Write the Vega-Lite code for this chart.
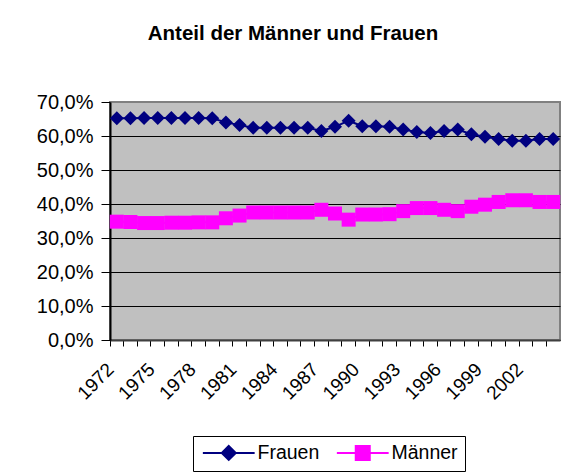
{
  "$schema": "https://vega.github.io/schema/vega-lite/v6.json",
  "width": 450,
  "height": 238,
  "autosize": {"type": "none"},
  "padding": {"left": 110, "top": 102, "right": 10, "bottom": 133},
  "background": "white",
  "title": {
    "text": "Anteil der Männer und Frauen",
    "fontSize": 20.5,
    "font": "Liberation Sans",
    "fontWeight": "bold",
    "color": "black",
    "anchor": "middle",
    "baseline": "alphabetic",
    "dx": -42,
    "offset": 32
  },
  "config": {
    "locale": {"number": {"decimal": ",", "thousands": ".", "grouping": [3], "currency": ["", " €"]}},
    "view": {"fill": "#C0C0C0", "stroke": "#808080", "strokeWidth": 2},
    "axis": {"labelFont": "Liberation Sans", "labelColor": "black", "domainColor": "black", "tickColor": "black", "title": null}
  },
  "data": {
    "values": [
      {"Jahr": 1972, "Geschlecht": "Frauen", "Anteil": 0.652},
      {"Jahr": 1973, "Geschlecht": "Frauen", "Anteil": 0.652},
      {"Jahr": 1974, "Geschlecht": "Frauen", "Anteil": 0.653},
      {"Jahr": 1975, "Geschlecht": "Frauen", "Anteil": 0.653},
      {"Jahr": 1976, "Geschlecht": "Frauen", "Anteil": 0.653},
      {"Jahr": 1977, "Geschlecht": "Frauen", "Anteil": 0.653},
      {"Jahr": 1978, "Geschlecht": "Frauen", "Anteil": 0.653},
      {"Jahr": 1979, "Geschlecht": "Frauen", "Anteil": 0.652},
      {"Jahr": 1980, "Geschlecht": "Frauen", "Anteil": 0.640},
      {"Jahr": 1981, "Geschlecht": "Frauen", "Anteil": 0.632},
      {"Jahr": 1982, "Geschlecht": "Frauen", "Anteil": 0.624},
      {"Jahr": 1983, "Geschlecht": "Frauen", "Anteil": 0.624},
      {"Jahr": 1984, "Geschlecht": "Frauen", "Anteil": 0.624},
      {"Jahr": 1985, "Geschlecht": "Frauen", "Anteil": 0.624},
      {"Jahr": 1986, "Geschlecht": "Frauen", "Anteil": 0.624},
      {"Jahr": 1987, "Geschlecht": "Frauen", "Anteil": 0.615},
      {"Jahr": 1988, "Geschlecht": "Frauen", "Anteil": 0.627},
      {"Jahr": 1989, "Geschlecht": "Frauen", "Anteil": 0.645},
      {"Jahr": 1990, "Geschlecht": "Frauen", "Anteil": 0.629},
      {"Jahr": 1991, "Geschlecht": "Frauen", "Anteil": 0.629},
      {"Jahr": 1992, "Geschlecht": "Frauen", "Anteil": 0.627},
      {"Jahr": 1993, "Geschlecht": "Frauen", "Anteil": 0.619},
      {"Jahr": 1994, "Geschlecht": "Frauen", "Anteil": 0.612},
      {"Jahr": 1995, "Geschlecht": "Frauen", "Anteil": 0.609},
      {"Jahr": 1996, "Geschlecht": "Frauen", "Anteil": 0.615},
      {"Jahr": 1997, "Geschlecht": "Frauen", "Anteil": 0.619},
      {"Jahr": 1998, "Geschlecht": "Frauen", "Anteil": 0.605},
      {"Jahr": 1999, "Geschlecht": "Frauen", "Anteil": 0.598},
      {"Jahr": 2000, "Geschlecht": "Frauen", "Anteil": 0.591},
      {"Jahr": 2001, "Geschlecht": "Frauen", "Anteil": 0.586},
      {"Jahr": 2002, "Geschlecht": "Frauen", "Anteil": 0.586},
      {"Jahr": 2003, "Geschlecht": "Frauen", "Anteil": 0.591},
      {"Jahr": 2004, "Geschlecht": "Frauen", "Anteil": 0.591},
      {"Jahr": 1972, "Geschlecht": "Männer", "Anteil": 0.348},
      {"Jahr": 1973, "Geschlecht": "Männer", "Anteil": 0.347},
      {"Jahr": 1974, "Geschlecht": "Männer", "Anteil": 0.344},
      {"Jahr": 1975, "Geschlecht": "Männer", "Anteil": 0.344},
      {"Jahr": 1976, "Geschlecht": "Männer", "Anteil": 0.345},
      {"Jahr": 1977, "Geschlecht": "Männer", "Anteil": 0.345},
      {"Jahr": 1978, "Geschlecht": "Männer", "Anteil": 0.346},
      {"Jahr": 1979, "Geschlecht": "Männer", "Anteil": 0.346},
      {"Jahr": 1980, "Geschlecht": "Männer", "Anteil": 0.358},
      {"Jahr": 1981, "Geschlecht": "Männer", "Anteil": 0.366},
      {"Jahr": 1982, "Geschlecht": "Männer", "Anteil": 0.375},
      {"Jahr": 1983, "Geschlecht": "Männer", "Anteil": 0.375},
      {"Jahr": 1984, "Geschlecht": "Männer", "Anteil": 0.375},
      {"Jahr": 1985, "Geschlecht": "Männer", "Anteil": 0.375},
      {"Jahr": 1986, "Geschlecht": "Männer", "Anteil": 0.375},
      {"Jahr": 1987, "Geschlecht": "Männer", "Anteil": 0.383},
      {"Jahr": 1988, "Geschlecht": "Männer", "Anteil": 0.372},
      {"Jahr": 1989, "Geschlecht": "Männer", "Anteil": 0.354},
      {"Jahr": 1990, "Geschlecht": "Männer", "Anteil": 0.369},
      {"Jahr": 1991, "Geschlecht": "Männer", "Anteil": 0.369},
      {"Jahr": 1992, "Geschlecht": "Männer", "Anteil": 0.370},
      {"Jahr": 1993, "Geschlecht": "Männer", "Anteil": 0.379},
      {"Jahr": 1994, "Geschlecht": "Männer", "Anteil": 0.388},
      {"Jahr": 1995, "Geschlecht": "Männer", "Anteil": 0.388},
      {"Jahr": 1996, "Geschlecht": "Männer", "Anteil": 0.383},
      {"Jahr": 1997, "Geschlecht": "Männer", "Anteil": 0.379},
      {"Jahr": 1998, "Geschlecht": "Männer", "Anteil": 0.392},
      {"Jahr": 1999, "Geschlecht": "Männer", "Anteil": 0.398},
      {"Jahr": 2000, "Geschlecht": "Männer", "Anteil": 0.406},
      {"Jahr": 2001, "Geschlecht": "Männer", "Anteil": 0.411},
      {"Jahr": 2002, "Geschlecht": "Männer", "Anteil": 0.411},
      {"Jahr": 2003, "Geschlecht": "Männer", "Anteil": 0.406},
      {"Jahr": 2004, "Geschlecht": "Männer", "Anteil": 0.406}
    ]
  },
  "encoding": {
    "x": {
      "field": "Jahr",
      "type": "ordinal",
      "scale": {"type": "band", "paddingInner": 0, "paddingOuter": 0},
      "axis": {
        "bandPosition": 0,
        "labelAngle": -45,
        "labelAlign": "right",
        "labelBaseline": "middle",
        "labelFontSize": 19,
        "labelExpr": "(datum.value - 1972) % 3 == 0 ? datum.label : ''",
        "labelOverlap": false,
        "labelOffset": -6,
        "labelPadding": 20,
        "tickSize": 6,
        "domainColor": "#404040",
        "domainWidth": 2,
        "grid": false
      }
    },
    "y": {
      "field": "Anteil",
      "type": "quantitative",
      "scale": {"domain": [0, 0.7], "nice": false},
      "axis": {
        "values": [0, 0.1, 0.2, 0.3, 0.4, 0.5, 0.6, 0.7],
        "format": ".1%",
        "labelFontSize": 20,
        "tickSize": 9,
        "labelPadding": 8,
        "grid": true,
        "gridColor": {"condition": {"test": "datum.value >= 0.69", "value": "#808080"}, "value": "black"},
        "gridOpacity": 1,
        "domainWidth": 2
      }
    },
    "color": {
      "field": "Geschlecht",
      "type": "nominal",
      "scale": {"domain": ["Frauen", "Männer"], "range": ["#000080", "#FF00FF"]},
      "legend": {
        "orient": "none",
        "legendX": 83,
        "legendY": 334,
        "direction": "horizontal",
        "title": null,
        "strokeColor": "black",
        "fillColor": "white",
        "padding": 7,
        "labelFont": "Liberation Sans",
        "labelFontSize": 19.5,
        "labelColor": "black",
        "symbolSize": 196,
        "symbolStrokeWidth": 2,
        "symbolOffset": 19,
        "labelOffset": 19,
        "columnPadding": 12,
        "encode": {
          "symbols": {
            "update": {
              "shape": {"signal": "datum.value === 'Frauen' ? 'M-3.7,0H3.7M0,-1L1,0L0,1L-1,0Z' : 'M-3.7,0H3.7M-1,-1H1V1H-1Z'"},
              "fill": {"scale": "color", "field": "value"},
              "stroke": {"scale": "color", "field": "value"},
              "strokeWidth": {"value": 2},
              "opacity": {"value": 1}
            }
          }
        }
      }
    }
  },
  "layer": [
    {"mark": {"type": "line", "strokeWidth": 2}},
    {
      "transform": [{"filter": "datum.Geschlecht === 'Frauen'"}],
      "mark": {"type": "point", "shape": "diamond", "filled": true, "size": 196, "opacity": 1}
    },
    {
      "transform": [{"filter": "datum.Geschlecht === 'Männer'"}],
      "mark": {"type": "point", "shape": "square", "filled": true, "size": 196, "opacity": 1}
    }
  ]
}
